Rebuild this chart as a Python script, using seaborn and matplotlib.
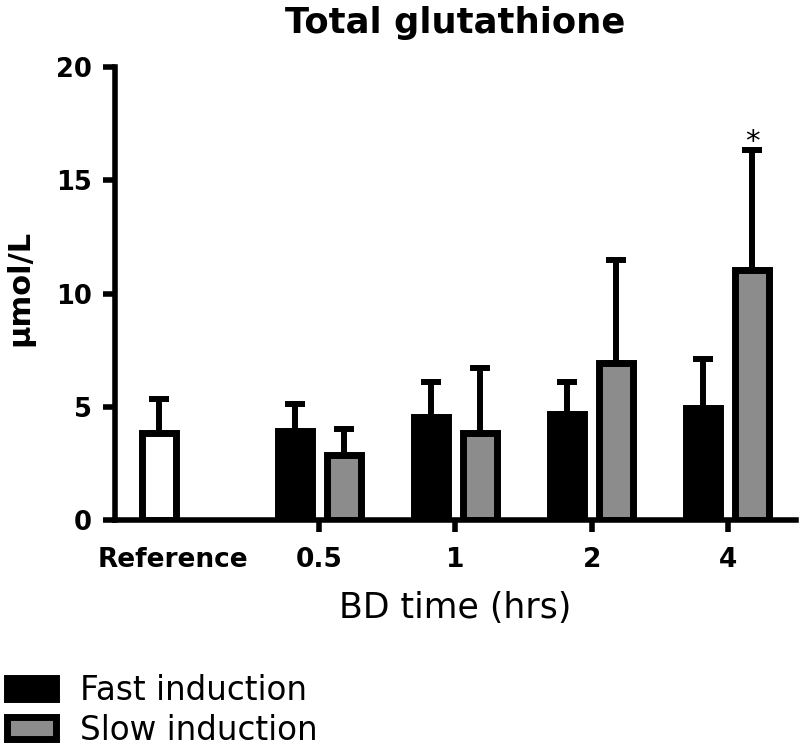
import matplotlib
matplotlib.use("Agg")
import matplotlib.pyplot as plt
import seaborn as sns
import pandas as pd
from matplotlib.patches import Patch
from matplotlib.transforms import ScaledTranslation

# ---- data ----
categories = ["Reference", "0.5", "1", "2", "4"]
groups = ["Fast induction", "Slow induction"]

fast_times = ["Reference", "0.5", "1", "2", "4"]
fast_means = [3.85, 3.91, 4.56, 4.66, 4.95]
fast_sd = [1.48, 1.20, 1.55, 1.45, 2.14]

slow_times = ["0.5", "1", "2", "4"]
slow_means = [2.89, 3.85, 6.91, 11.03]
slow_sd = [1.11, 2.85, 4.57, 5.31]

significant = [("Slow induction", "4")]

yticks = [0, 5, 10, 15, 20]
title = "Total glutathione"
xlabel = "BD time (hrs)"
ylabel = "µmol/L"

# ---- style ----
sns.set_style("ticks")
plt.rcParams["font.family"] = ["DejaVu Sans"]
plt.rcParams["text.color"] = "black"
plt.rcParams["axes.labelcolor"] = "black"
plt.rcParams["xtick.color"] = "black"
plt.rcParams["ytick.color"] = "black"

fig = plt.figure(figsize=(8, 7.48), dpi=100)
ax = fig.add_axes([115 / 800, (748 - 520) / 748, 681 / 800, 453 / 748])

df = pd.DataFrame({
    "time": fast_times + slow_times,
    "value": fast_means + slow_means,
    "group": [groups[0]] * len(fast_times) + [groups[1]] * len(slow_times),
})

colors = ["#000000", "#8c8c8c"]
sns.barplot(data=df, x="time", y="value", hue="group", order=categories,
            hue_order=groups, palette=colors, width=0.72, gap=0.31,
            edgecolor="black", linewidth=5, errorbar=None, legend=False,
            ax=ax, zorder=3)

sds = {groups[0]: dict(zip(fast_times, fast_sd)),
       groups[1]: dict(zip(slow_times, slow_sd))}
times_by_group = {groups[0]: fast_times, groups[1]: slow_times}

for gi, cont in enumerate(ax.containers[:2]):
    g = groups[gi]
    xs, tops, errs = [], [], []
    for bar, t in zip(cont.patches, times_by_group[g]):
        bar.set_zorder(3)
        if t == "Reference":
            bar.set_facecolor("white")
        x = bar.get_x() + bar.get_width() / 2
        top = bar.get_height()
        xs.append(x)
        tops.append(top)
        errs.append(sds[g][t])
        if (g, t) in significant:
            ax.annotate("*", xy=(x, top + sds[g][t]), xytext=(0, 5.5),
                        textcoords="offset points", ha="center", va="center",
                        fontsize=21, color="black")
    ax.errorbar(xs, tops, yerr=[[0] * len(errs), errs], fmt="none",
                ecolor="black", elinewidth=4.3, capsize=7.5, capthick=4.3,
                zorder=2)

ax.set_xlim(-0.5, 4.5)
ax.set_ylim(0, 20)
ax.set_yticks(yticks)
ax.set_yticklabels([str(v) for v in yticks])
ax.set_xticks(range(len(categories)))
ax.set_xticklabels(categories)

sns.despine(ax=ax)
for s in ["left", "bottom"]:
    ax.spines[s].set_linewidth(4)
    ax.spines[s].set_color("black")

ax.tick_params(axis="both", length=8.6, width=4, color="black",
               direction="out")
ax.tick_params(axis="x", pad=10.5, labelsize=19)
ax.tick_params(axis="y", pad=8, labelsize=18.5)
for lbl in ax.get_xticklabels() + ax.get_yticklabels():
    lbl.set_fontweight("bold")
    lbl.set_color("black")
ax.xaxis.get_major_ticks()[0].tick1line.set_visible(False)
ref_lbl = ax.get_xticklabels()[0]
ref_lbl.set_transform(ref_lbl.get_transform() +
                      ScaledTranslation(-10 / 100, 0, fig.dpi_scale_trans))

ax.set_title(title, fontsize=25.5, fontweight="bold", pad=24.5, color="black")
ax.set_xlabel(xlabel, fontsize=25, color="black")
ax.xaxis.set_label_coords(0.5, -0.157)
ax.set_ylabel(ylabel, fontsize=22, fontweight="bold", color="black")
ax.yaxis.set_label_coords(-0.118, 0.512)

handles = [Patch(facecolor=colors[0], edgecolor="black", linewidth=5),
           Patch(facecolor=colors[1], edgecolor="black", linewidth=5)]
leg = fig.legend(handles, groups, loc="upper left",
                 bbox_to_anchor=(6.5 / 800, (748 - 674) / 748),
                 frameon=False, fontsize=23.5, borderpad=0, borderaxespad=0,
                 handlelength=1.53, handleheight=0.65, handletextpad=0.72,
                 labelspacing=0.2)
for txt in leg.get_texts():
    txt.set_color("black")

fig.savefig("out.png", dpi=100)
